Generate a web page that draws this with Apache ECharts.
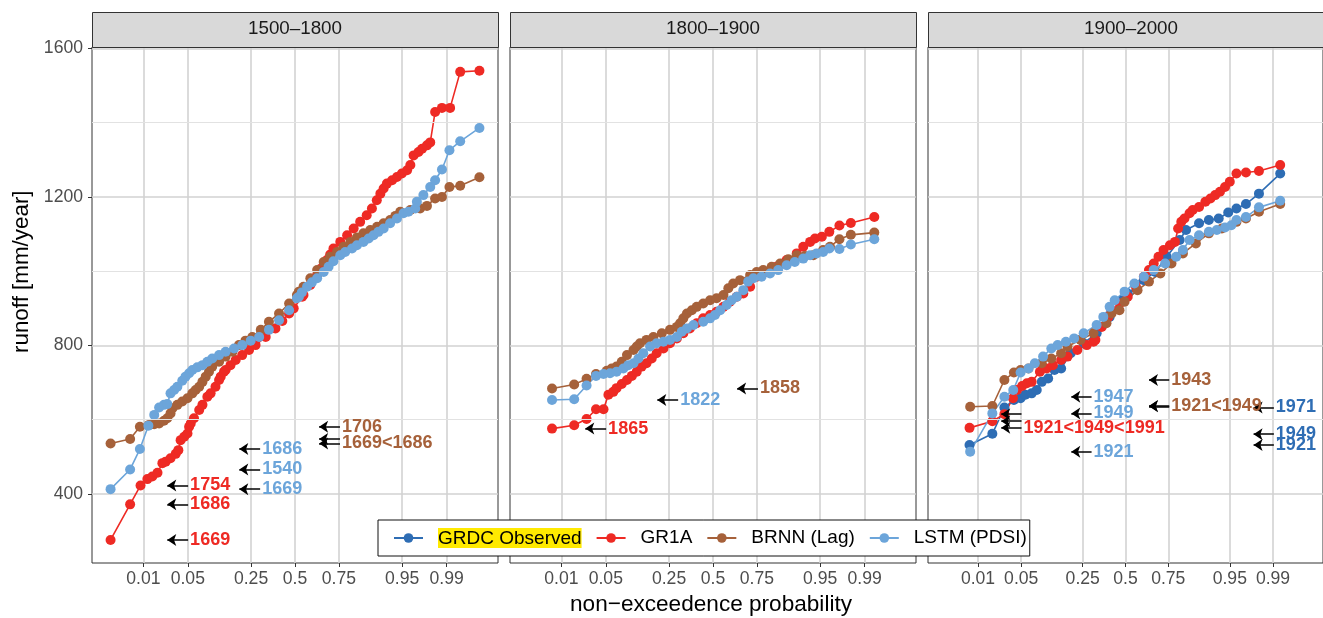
<!DOCTYPE html>
<html>
<head>
<meta charset="utf-8">
<script src="https://cdn.jsdelivr.net/npm/echarts@6/dist/echarts.min.js"></script>
<style>
  html, body { margin: 0; padding: 0; background: #fff; }
  #chart { width: 1323px; height: 618px; }
</style>
</head>
<body>
<div id="chart"></div>
<script>
// x values are normal scores (standard normal quantile of the plotting position)
const probTicks = [0.01, 0.05, 0.25, 0.5, 0.75, 0.95, 0.99]
const probLabels = ['0.01', '0.05', '0.25', '0.5', '0.75', '0.95', '0.99']
const runoffTicks = [400, 800, 1200, 1600]
const runoffMinor = [600, 1000, 1400]
const periods = ['1500–1800', '1800–1900', '1900–2000']
const models = ['GRDC Observed', 'GR1A', 'BRNN (Lag)', 'LSTM (PDSI)']

// 1500-1800
const gr1a_1500 = [[-2.83,276],[-2.53,372],[-2.37,423],[-2.265,440],[-2.19,447],[-2.11,457],[-2.035,483],[-1.985,487],[-1.91,496],[-1.83,508],[-1.79,518],[-1.755,545],[-1.7,554],[-1.65,563],[-1.625,581],[-1.6,590],[-1.55,604],[-1.47,626],[-1.42,640],[-1.345,662],[-1.295,671],[-1.22,689],[-1.165,707],[-1.14,716],[-1.09,729],[-1.065,734],[-0.99,747],[-0.91,761],[-0.81,774],[-0.705,788],[-0.605,801],[-0.45,823],[-0.3,846],[-0.195,866],[-0.09,886],[-0.02,900],[0.11,931],[0.13,936],[0.235,963],[0.34,990],[0.415,1009],[0.49,1030],[0.54,1045],[0.59,1061],[0.695,1079],[0.8,1097],[0.9,1115],[1.0,1133],[1.1,1151],[1.18,1169],[1.255,1191],[1.31,1209],[1.36,1223],[1.41,1236],[1.49,1245],[1.565,1254],[1.64,1263],[1.72,1272],[1.77,1286],[1.82,1312],[1.895,1321],[1.95,1330],[2.025,1339],[2.075,1347],[2.15,1429],[2.255,1440],[2.38,1440],[2.535,1537],[2.83,1540]]
const brnn_1500 = [[-2.83,536],[-2.53,548],[-2.38,581],[-2.24,586],[-2.16,588],[-2.085,590],[-2.01,597],[-1.96,604],[-1.91,617],[-1.88,631],[-1.805,640],[-1.73,649],[-1.65,658],[-1.575,671],[-1.525,680],[-1.47,689],[-1.42,702],[-1.37,716],[-1.32,729],[-1.27,743],[-1.165,756],[-1.065,770],[-0.96,783],[-0.86,801],[-0.76,813],[-0.655,823],[-0.525,842],[-0.4,864],[-0.245,886],[-0.09,913],[0.03,936],[0.06,945],[0.13,958],[0.235,981],[0.34,1003],[0.44,1025],[0.54,1039],[0.645,1052],[0.745,1066],[0.85,1079],[0.95,1091],[1.05,1102],[1.155,1111],[1.26,1120],[1.36,1129],[1.46,1138],[1.54,1149],[1.615,1160],[1.77,1165],[1.92,1169],[2.025,1176],[2.15,1196],[2.255,1200],[2.37,1227],[2.535,1230],[2.83,1253]]
const lstm_1500 = [[-2.83,413],[-2.53,466],[-2.38,521],[-2.25,584],[-2.16,613],[-2.085,633],[-2.01,640],[-1.96,642],[-1.91,671],[-1.855,680],[-1.805,689],[-1.73,705],[-1.68,716],[-1.625,725],[-1.575,734],[-1.5,741],[-1.42,747],[-1.345,756],[-1.27,765],[-1.165,774],[-1.065,783],[-0.935,792],[-0.81,801],[-0.68,813],[-0.55,823],[-0.4,842],[-0.245,868],[-0.09,895],[0.03,927],[0.06,931],[0.105,943],[0.185,958],[0.26,970],[0.34,981],[0.44,998],[0.515,1012],[0.59,1027],[0.695,1043],[0.77,1052],[0.875,1061],[0.95,1070],[1.05,1079],[1.13,1088],[1.205,1097],[1.28,1106],[1.36,1115],[1.46,1129],[1.565,1142],[1.665,1156],[1.74,1160],[1.845,1169],[1.87,1187],[1.97,1205],[2.075,1227],[2.15,1245],[2.255,1274],[2.37,1326],[2.535,1350],[2.83,1386]]

// 1800-1900
const gr1a_1800 = [[-2.47,576],[-2.13,585],[-1.94,602],[-1.795,628],[-1.68,628],[-1.605,667],[-1.53,675],[-1.48,685],[-1.4,696],[-1.32,707],[-1.245,718],[-1.17,729],[-1.095,743],[-1.02,752],[-0.94,765],[-0.865,779],[-0.76,792],[-0.66,806],[-0.555,819],[-0.455,833],[-0.355,846],[-0.25,860],[-0.15,873],[-0.045,882],[0.055,891],[0.16,904],[0.26,918],[0.365,931],[0.465,940],[0.57,958],[0.67,985],[0.825,998],[0.975,1012],[1.13,1030],[1.285,1048],[1.385,1066],[1.49,1079],[1.565,1088],[1.67,1093],[1.785,1106],[1.94,1123],[2.115,1130],[2.475,1146]]
const brnn_1800 = [[-2.47,684],[-2.13,695],[-1.94,710],[-1.795,723],[-1.63,732],[-1.555,738],[-1.48,743],[-1.4,756],[-1.32,774],[-1.22,788],[-1.17,797],[-1.12,806],[-1.02,815],[-0.915,823],[-0.785,833],[-0.66,842],[-0.555,850],[-0.505,860],[-0.455,873],[-0.4,886],[-0.325,895],[-0.25,904],[-0.15,913],[-0.045,922],[0.055,927],[0.16,936],[0.235,954],[0.31,967],[0.415,976],[0.57,990],[0.67,998],[0.77,1003],[0.9,1012],[1.03,1021],[1.155,1032],[1.285,1043],[1.41,1041],[1.54,1043],[1.69,1057],[1.795,1066],[1.94,1086],[2.115,1098],[2.475,1104]]
const lstm_1800 = [[-2.47,653],[-2.13,655],[-1.94,692],[-1.795,718],[-1.68,723],[-1.58,725],[-1.48,729],[-1.375,738],[-1.3,747],[-1.22,752],[-1.145,765],[-1.07,779],[-0.965,797],[-0.865,806],[-0.76,810],[-0.66,815],[-0.555,823],[-0.48,837],[-0.4,846],[-0.3,855],[-0.15,864],[-0.045,873],[0.03,882],[0.11,895],[0.21,909],[0.285,922],[0.365,931],[0.465,949],[0.54,972],[0.62,981],[0.745,985],[0.875,994],[1.0,1003],[1.13,1016],[1.255,1025],[1.385,1034],[1.49,1043],[1.59,1048],[1.69,1052],[1.785,1061],[1.94,1060],[2.115,1072],[2.475,1086]]

// 1900-2000
const grdc_1900 = [[-2.46,532],[-2.1,562],[-1.91,633],[-1.76,653],[-1.655,658],[-1.58,667],[-1.48,671],[-1.4,680],[-1.32,702],[-1.22,711],[-1.12,734],[-1.015,738],[-0.865,779],[-0.66,806],[-0.455,833],[-0.25,877],[-0.045,922],[0.035,940],[0.29,976],[0.47,998],[0.65,1039],[0.855,1084],[0.955,1111],[1.16,1129],[1.315,1138],[1.47,1142],[1.62,1158],[1.75,1169],[1.9,1181],[2.105,1209],[2.44,1263]]
const gr1a_1900 = [[-2.46,578],[-2.1,596],[-1.91,615],[-1.775,658],[-1.71,680],[-1.63,691],[-1.555,698],[-1.48,702],[-1.35,729],[-1.245,738],[-1.145,747],[-1.015,761],[-0.915,770],[-0.76,788],[-0.61,801],[-0.505,810],[-0.475,815],[-0.375,850],[-0.27,877],[-0.22,895],[-0.09,913],[0.035,931],[0.165,958],[0.29,985],[0.37,1003],[0.445,1021],[0.52,1039],[0.6,1057],[0.7,1070],[0.78,1079],[0.83,1115],[0.88,1133],[0.93,1142],[1.01,1156],[1.06,1165],[1.16,1173],[1.26,1187],[1.34,1196],[1.415,1205],[1.49,1214],[1.57,1227],[1.645,1241],[1.75,1263],[1.9,1266],[2.105,1270],[2.44,1286]]
const brnn_1900 = [[-2.45,635],[-2.1,637],[-1.91,707],[-1.76,727],[-1.655,734],[-1.53,738],[-1.32,752],[-1.17,765],[-1.015,779],[-0.915,797],[-0.71,815],[-0.505,833],[-0.3,860],[-0.22,886],[-0.095,895],[-0.015,918],[0.19,949],[0.37,972],[0.55,994],[0.725,1021],[0.905,1048],[1.11,1075],[1.315,1102],[1.52,1115],[1.75,1133],[1.9,1142],[2.105,1160],[2.44,1181]]
const lstm_1900 = [[-2.45,514],[-2.1,617],[-1.91,662],[-1.77,680],[-1.655,727],[-1.53,738],[-1.43,752],[-1.3,770],[-1.17,792],[-1.07,801],[-0.94,810],[-0.81,819],[-0.66,833],[-0.455,855],[-0.35,877],[-0.25,904],[-0.17,922],[-0.015,945],[0.14,967],[0.29,985],[0.445,1003],[0.625,1021],[0.8,1039],[0.905,1057],[1.01,1084],[1.16,1097],[1.315,1106],[1.44,1111],[1.57,1118],[1.67,1124],[1.75,1138],[1.9,1146],[2.105,1172],[2.44,1190]]

// driest years, label sits on the first value, one arrow per value
const notes_1500 = [
  {m: 'GR1A', text: '1669', vals: [276]},
  {m: 'GR1A', text: '1686', vals: [372]},
  {m: 'GR1A', text: '1754', vals: [423]},
  {m: 'LSTM (PDSI)', text: '1669', vals: [413]},
  {m: 'LSTM (PDSI)', text: '1540', vals: [466]},
  {m: 'LSTM (PDSI)', text: '1686', vals: [521]},
  {m: 'BRNN (Lag)', text: '1669<1686', vals: [536, 548]},
  {m: 'BRNN (Lag)', text: '1706', vals: [581]}
]
const notes_1800 = [
  {m: 'GR1A', text: '1865', vals: [576]},
  {m: 'LSTM (PDSI)', text: '1822', vals: [653]},
  {m: 'BRNN (Lag)', text: '1858', vals: [684]}
]
const notes_1900 = [
  {m: 'GR1A', text: '1921<1949<1991', vals: [578, 596, 615]},
  {m: 'LSTM (PDSI)', text: '1921', vals: [514]},
  {m: 'LSTM (PDSI)', text: '1949', vals: [617]},
  {m: 'LSTM (PDSI)', text: '1947', vals: [662]},
  {m: 'BRNN (Lag)', text: '1921<1949', vals: [636, 637]},
  {m: 'BRNN (Lag)', text: '1943', vals: [707]},
  {m: 'GRDC Observed', text: '1921', vals: [532]},
  {m: 'GRDC Observed', text: '1949', vals: [561]},
  {m: 'GRDC Observed', text: '1971', vals: [633]}
]

const colors = {
  'GRDC Observed': '#2e6db4',
  'GR1A': '#ee2a24',
  'BRNN (Lag)': '#a6613a',
  'LSTM (PDSI)': '#6ca5da'
}
// arrow head position (normal score) for each model's notes
const noteX = {'GR1A': -1.96, 'LSTM (PDSI)': -0.855, 'BRNN (Lag)': 0.37, 'GRDC Observed': 2.02}
const arrowLen = 0.32

const panelData = [
  {'GR1A': gr1a_1500, 'BRNN (Lag)': brnn_1500, 'LSTM (PDSI)': lstm_1500},
  {'GR1A': gr1a_1800, 'BRNN (Lag)': brnn_1800, 'LSTM (PDSI)': lstm_1800},
  {'GRDC Observed': grdc_1900, 'GR1A': gr1a_1900, 'BRNN (Lag)': brnn_1900, 'LSTM (PDSI)': lstm_1900}
]
const panelNotes = [notes_1500, notes_1800, notes_1900]

// inverse normal cdf (Acklam)
function qnorm(p) {
  const a = [-3.969683028665376e+01, 2.209460984245205e+02, -2.759285104469687e+02, 1.383577518672690e+02, -3.066479806614716e+01, 2.506628277459239e+00]
  const b = [-5.447609879822406e+01, 1.615858368580409e+02, -1.556989798598866e+02, 6.680131188771972e+01, -1.328068155288572e+01]
  const c = [-7.784894002430293e-03, -3.223964580411365e-01, -2.400758277161838e+00, -2.549732539343734e+00, 4.374664141464968e+00, 2.938163982698783e+00]
  const d = [7.784695709041462e-03, 3.224671290700398e-01, 2.445134137142996e+00, 3.754408661907416e+00]
  const pl = 0.02425
  if (p < pl) {
    let q = Math.sqrt(-2 * Math.log(p))
    return (((((c[0]*q+c[1])*q+c[2])*q+c[3])*q+c[4])*q+c[5]) / ((((d[0]*q+d[1])*q+d[2])*q+d[3])*q+1)
  }
  if (p <= 1 - pl) {
    let q = p - 0.5, r = q * q
    return (((((a[0]*r+a[1])*r+a[2])*r+a[3])*r+a[4])*r+a[5])*q / (((((b[0]*r+b[1])*r+b[2])*r+b[3])*r+b[4])*r+1)
  }
  return -qnorm(1 - p)
}

const tickPos = probTicks.map(qnorm)
function probLabel(v) {
  let best = 0
  for (let i = 0; i < tickPos.length; i++) {
    if (Math.abs(tickPos[i] - v) < Math.abs(tickPos[best] - v)) best = i
  }
  return probLabels[best]
}

const FONT = 'Liberation Sans, Arial, sans-serif'
const panelLeft = [92, 510, 928]
const panelW = 406
const panelTop = 47
const panelH = 516

let grids = [], xAxes = [], yAxes = [], series = [], graphics = []

panelLeft.forEach((left, i) => {
  grids.push({left: left, top: panelTop, width: panelW, height: panelH, show: true,
    borderColor: '#333', borderWidth: 1, backgroundColor: 'transparent', z: 0})
  xAxes.push({
    type: 'value', gridIndex: i, min: -3.115, max: 3.115,
    axisLine: {show: false, onZero: false},
    axisTick: {show: true, length: 4, lineStyle: {color: '#333', width: 1}, customValues: tickPos},
    axisLabel: {show: true, customValues: tickPos, formatter: probLabel, color: '#4d4d4d',
      fontSize: 17.6, fontFamily: FONT, margin: 7},
    splitLine: {show: true, lineStyle: {color: '#d2d2d2', width: 1.6}}
  })
  yAxes.push({
    type: 'value', gridIndex: i, min: 214, max: 1604,
    axisLine: {show: false, onZero: false},
    axisTick: {show: i === 0, length: 4, lineStyle: {color: '#333', width: 1}, customValues: runoffTicks},
    axisLabel: {show: i === 0, customValues: runoffTicks, formatter: v => String(v), color: '#4d4d4d',
      fontSize: 17.6, fontFamily: FONT, margin: 9},
    splitLine: {show: true, lineStyle: {color: '#d2d2d2', width: 1.6}}
  })

  // minor horizontal grid lines
  series.push({
    type: 'line', name: 'minor' + i, xAxisIndex: i, yAxisIndex: i, data: [], z: 1, silent: true,
    markLine: {silent: true, symbol: 'none', animation: false, label: {show: false},
      lineStyle: {color: '#e2e2e2', width: 1.1, type: 'solid'},
      data: runoffMinor.map(v => ({yAxis: v}))}
  })

  models.forEach(m => {
    const d = panelData[i][m]
    if (!d) return
    series.push({
      type: 'line', name: m, xAxisIndex: i, yAxisIndex: i, data: d,
      symbol: 'circle', symbolSize: 10, showSymbol: true,
      itemStyle: {color: colors[m]}, lineStyle: {color: colors[m], width: 1.6},
      animation: false, z: 3
    })
  })

  panelNotes[i].forEach(n => {
    const x0 = noteX[n.m]
    series.push({
      type: 'scatter', name: 'note', xAxisIndex: i, yAxisIndex: i,
      data: [[x0 + arrowLen, n.vals[0]]], symbolSize: 0, animation: false, z: 5, silent: true,
      itemStyle: {opacity: 1},
      label: {show: true, position: 'right', distance: 2, formatter: n.text, opacity: 1,
        color: colors[n.m], fontWeight: 'bold', fontSize: 18, fontFamily: FONT},
      markLine: {silent: true, animation: false, symbol: ['none', 'arrow'], symbolSize: 9,
        label: {show: false}, lineStyle: {color: '#000', width: 1.5, type: 'solid'},
        data: n.vals.map(v => [
          {coord: [x0 + arrowLen, v], symbol: 'none'},
          {coord: [x0, v], symbol: 'arrow', symbolSize: 9}
        ])}
    })
  })

  // facet strip
  graphics.push({type: 'rect', left: left, top: 12, shape: {width: panelW, height: 35},
    style: {fill: '#d9d9d9', stroke: '#333', lineWidth: 1}, z: 10})
  graphics.push({type: 'text', left: left + panelW / 2 - 47, top: 19,
    style: {text: periods[i], font: '18.8px ' + FONT, fill: '#1a1a1a'}, z: 11})
})

graphics.push({type: 'text', x: 11, y: 353, rotation: Math.PI / 2,
  style: {text: 'runoff [mm/year]', font: '22.4px ' + FONT, fill: '#000'}, z: 11})
graphics.push({type: 'text', left: 570, top: 593,
  style: {text: 'non−exceedence probability', font: '22.6px ' + FONT, fill: '#000'}, z: 11})

let chart = echarts.init(document.getElementById('chart'), null, {renderer: 'canvas'})
chart.setOption({
  animation: false,
  backgroundColor: '#fff',
  grid: grids,
  xAxis: xAxes,
  yAxis: yAxes,
  series: series,
  graphic: graphics,
  legend: {
    data: models, left: 378, top: 520, orient: 'horizontal',
    padding: [8, 3, 8, 15], itemGap: 14, itemWidth: 29, itemHeight: 12,
    borderColor: '#111', borderWidth: 1, backgroundColor: '#fff', z: 20,
    formatter: name => name === 'GRDC Observed' ? '{sp|}{hl|' + name + '}' : '{sp|}{t|' + name + '}',
    textStyle: {fontSize: 19, fontFamily: FONT, color: '#000',
      rich: {
        sp: {width: 10},
        t: {fontSize: 19, fontFamily: FONT, color: '#000'},
        hl: {backgroundColor: '#ffea00', fontSize: 19, fontFamily: FONT, color: '#000', padding: [1, 0, 0, 0]}
      }}
  }
})
</script>
</body>
</html>
